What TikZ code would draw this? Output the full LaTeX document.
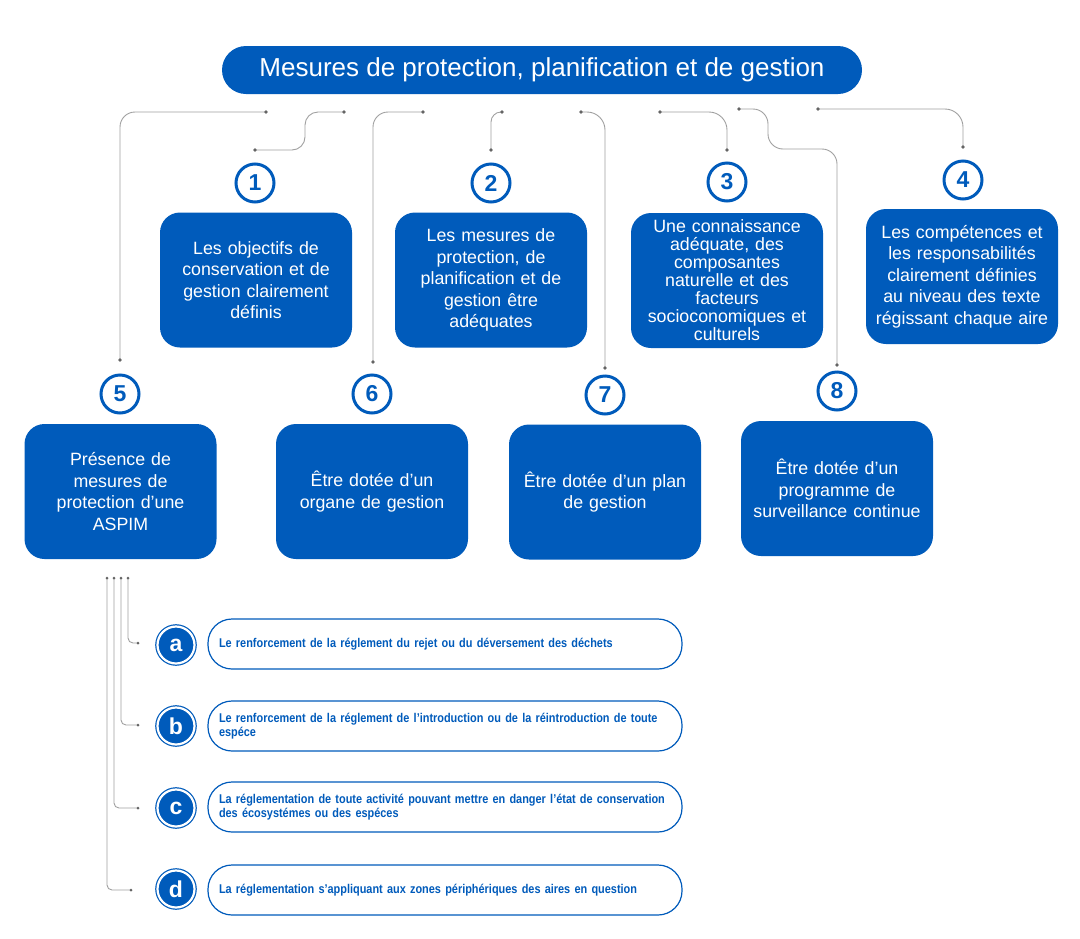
\documentclass[tikz,border=0pt]{standalone}
\usepackage{fontspec}
\setmainfont{Liberation Sans}
\newfontfamily\condb[FakeStretch=0.86]{Liberation Sans Bold}
\hbadness=10000
\hfuzz=40pt
\definecolor{myblue}{RGB}{0,91,187}
\definecolor{linegray}{RGB}{160,160,160}
\definecolor{dotgray}{RGB}{100,100,100}
\tikzset{
  titlebox/.style={rectangle, rounded corners=24pt, fill=myblue, minimum width=640pt, minimum height=48pt, text=white, font=\fontsize{26}{28}\selectfont},
  bluebox/.style={rectangle, rounded corners=20pt, fill=myblue, minimum width=192pt, minimum height=135pt, text=white, align=center, text width=188pt, inner sep=0pt, font=\fontsize{17.8}{21.5}\selectfont},
  numcirc/.style={circle, draw=myblue, line width=3pt, fill=white, minimum size=38pt, inner sep=0pt, text=myblue, font=\fontsize{23}{23}\selectfont\bfseries},
  letcirc/.style={circle, fill=myblue, draw=myblue, line width=1.2pt, double=white, double distance=2.2pt, minimum size=37pt, inner sep=0pt, text=white, font=\fontsize{23}{23}\selectfont\bfseries},
  pill/.style={rectangle, rounded corners=24pt, draw=myblue, line width=1.2pt, fill=white, minimum width=474pt, minimum height=50pt, text width=452pt, inner sep=11pt, align=left, text=myblue, font=\condb\fontsize{12.7}{14.5}\selectfont},
  conn/.style={draw=linegray, line width=0.9pt, rounded corners=15pt},
  sconn/.style={draw=linegray, line width=0.9pt, rounded corners=5pt},
  dotmark/.style={circle, fill=dotgray, inner sep=0pt, minimum size=3.6pt}
}
\begin{document}
\begin{tikzpicture}[x=1pt,y=-1pt]
\useasboundingbox (0,0) rectangle (1080,938);
% title
\node[titlebox] (title) at (542,70) {Mesures de protection, planification et de gestion};
% number circles
\node[numcirc] (n1) at (255,183) {1};
\node[numcirc] (n2) at (491,183) {2};
\node[numcirc] (n3) at (727,182) {3};
\node[numcirc] (n4) at (963,180) {4};
\node[numcirc] (n5) at (120,394) {5};
\node[numcirc] (n6) at (372,394) {6};
\node[numcirc] (n7) at (605,395) {7};
\node[numcirc] (n8) at (837,391) {8};
% boxes
\node[bluebox] (b1) at (256,280) {Les objectifs de\\conservation et de\\gestion clairement\\définis};
\node[bluebox] (b2) at (491,280) {Les mesures de\\protection, de\\planification et de\\gestion être\\adéquates};
\node[bluebox, font=\fontsize{17.8}{18}\selectfont] (b3) at (727,280.5) {Une connaissance\\adéquate, des\\composantes\\naturelle et des\\facteurs\\socioconomiques et\\culturels};
\node[bluebox] (b4) at (962,276.5) {Les compétences et\\les responsabilités\\clairement définies\\au niveau des texte\\régissant chaque aire};
\node[bluebox] (b5) at (120.5,491.5) {Présence de\\mesures de\\protection d’une\\ASPIM};
\node[bluebox] (b6) at (372,491.5) {Être dotée d’un\\organe de gestion};
\node[bluebox] (b7) at (605,492) {Être dotée d’un plan\\de gestion};
\node[bluebox] (b8) at (837,488.5) {Être dotée d’un\\programme de\\surveillance continue};
% top connector end points
\coordinate (a1) at (266,112); \coordinate (a2) at (120,360);
\coordinate (c1) at (344,112); \coordinate (c2) at (255,150);
\coordinate (d1) at (423,112); \coordinate (d2) at (373,362);
\coordinate (e1) at (502,112); \coordinate (e2) at (491,150);
\coordinate (f1) at (581,112); \coordinate (f2) at (605,368);
\coordinate (g1) at (660,112); \coordinate (g2) at (727,150);
\coordinate (h1) at (739,109); \coordinate (h2) at (837,365);
\coordinate (k1) at (818,109); \coordinate (k2) at (963,147);
\draw[conn] (a1) -- (a2 |- a1) -- (a2);
\draw[conn, rounded corners=13pt] (c1) -- (305,112) -- (305,150) -- (c2);
\draw[conn] (d1) -- (d2 |- d1) -- (d2);
\draw[conn, rounded corners=10pt] (e1) -- (e2 |- e1) -- (e2);
\draw[conn, rounded corners=18pt] (f1) -- (f2 |- f1) -- (f2);
\draw[conn, rounded corners=18pt] (g1) -- (g2 |- g1) -- (g2);
\draw[conn] (h1) -- (768,109) -- (768,149) -- (837,149) -- (h2);
\draw[conn, rounded corners=18pt] (k1) -- (k2 |- k1) -- (k2);
\foreach \p in {a1,a2,c1,c2,d1,d2,e1,e2,f1,f2,g1,g2,h1,h2,k1,k2}
  \node[dotmark] at (\p) {};
% letter list
\node[letcirc] (la) at (176,645) {a};
\node[letcirc] (lb) at (176,726) {b};
\node[letcirc] (lc) at (176,808) {c};
\node[letcirc] (ld) at (176,889) {d};
\node[pill] (pa) at (445,644) {Le renforcement de la réglement du rejet ou du déversement des déchets};
\node[pill] (pb) at (445,726) {Le renforcement de la réglement de l’introduction ou de la réintroduction de toute\\espéce};
\node[pill] (pc) at (445,807) {La réglementation de toute activité pouvant mettre en danger l’état de conservation\\des écosystémes ou des espéces};
\node[pill] (pd) at (445,890) {La réglementation s’appliquant aux zones périphériques des aires en question};
% bottom connectors
\coordinate (sa) at (128,578); \coordinate (ta) at (138,643);
\coordinate (sb) at (121,578); \coordinate (tb) at (138,725);
\coordinate (sc) at (114,578); \coordinate (tc) at (138,808);
\coordinate (sd) at (107,578); \coordinate (td) at (131,890);
\draw[sconn] (sa) -- (sa |- ta) -- (ta);
\draw[sconn] (sb) -- (sb |- tb) -- (tb);
\draw[sconn] (sc) -- (sc |- tc) -- (tc);
\draw[sconn] (sd) -- (sd |- td) -- (td);
\foreach \p in {sa,ta,sb,tb,sc,tc,sd,td}
  \node[dotmark, minimum size=3pt] at (\p) {};
\end{tikzpicture}
\end{document}
